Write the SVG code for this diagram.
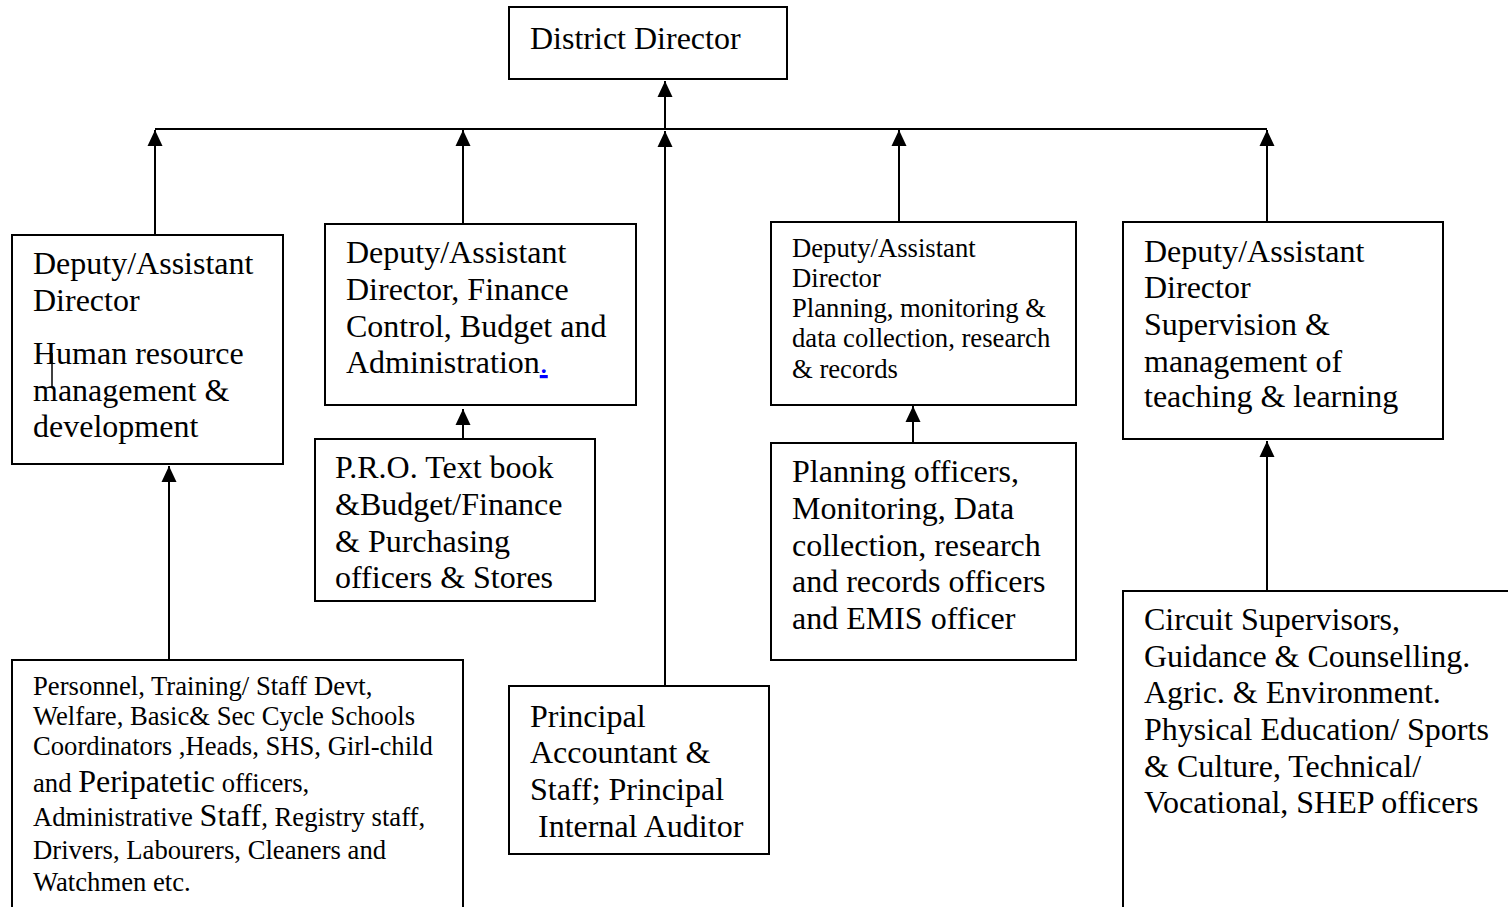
<svg xmlns="http://www.w3.org/2000/svg" width="1508" height="907" viewBox="0 0 1508 907">
<style>
.box{fill:#fff;stroke:#000;stroke-width:2}
.ln{fill:none;stroke:#000;stroke-width:2}
.t{font-family:"Liberation Serif","Times New Roman",serif;font-size:32px;fill:#000}
.s{font-family:"Liberation Serif","Times New Roman",serif;font-size:26.67px;fill:#000}
</style>
<defs>
<marker id="ah" viewBox="0 0 16 16" refX="16" refY="8" markerWidth="16" markerHeight="16" markerUnits="userSpaceOnUse" orient="auto">
<path d="M0,0.5 L16,8 L0,15.5 z" fill="#000"/>
</marker>
</defs>
<rect width="1508" height="907" fill="#fff"/>
<g id="connectors">
<line class="ln" x1="155" y1="129" x2="1267" y2="129"/>
<line class="ln" x1="665" y1="129" x2="665" y2="81" marker-end="url(#ah)"/>
<line class="ln" x1="155" y1="235" x2="155" y2="130" marker-end="url(#ah)"/>
<line class="ln" x1="463" y1="224" x2="463" y2="130" marker-end="url(#ah)"/>
<line class="ln" x1="665" y1="686" x2="665" y2="131" marker-end="url(#ah)"/>
<line class="ln" x1="899" y1="222" x2="899" y2="130" marker-end="url(#ah)"/>
<line class="ln" x1="1267" y1="222" x2="1267" y2="130" marker-end="url(#ah)"/>
<line class="ln" x1="169" y1="660" x2="169" y2="466" marker-end="url(#ah)"/>
<line class="ln" x1="463" y1="439" x2="463" y2="409" marker-end="url(#ah)"/>
<line class="ln" x1="913" y1="443" x2="913" y2="406" marker-end="url(#ah)"/>
<line class="ln" x1="1267" y1="591" x2="1267" y2="441" marker-end="url(#ah)"/>
</g>
<g id="district-director">
<rect class="box" x="509" y="7" width="278" height="72"/>
<text class="t" x="530" y="49">District Director</text>
</g>
<g id="dad-hr">
<rect class="box" x="12" y="235" width="271" height="229"/>
<text class="t"><tspan x="33" y="274">Deputy/Assistant</tspan><tspan x="33" y="311">Director</tspan><tspan x="33" y="364">Human resource</tspan><tspan x="33" y="401">management &amp;</tspan><tspan x="33" y="437">development</tspan></text>
<line x1="52" y1="353" x2="52" y2="387" stroke="#000" stroke-width="1.5"/>
</g>
<g id="dad-finance">
<rect class="box" x="325" y="224" width="311" height="181"/>
<text class="t"><tspan x="346" y="263">Deputy/Assistant</tspan><tspan x="346" y="300">Director, Finance</tspan><tspan x="346" y="337">Control, Budget and</tspan><tspan x="346" y="373">Administration<tspan fill="#0000ff" text-decoration="underline">.</tspan></tspan></text>
</g>
<g id="pro">
<rect class="box" x="315" y="439" width="280" height="162"/>
<text class="t"><tspan x="335" y="478">P.R.O. Text book</tspan><tspan x="335" y="515">&amp;Budget/Finance</tspan><tspan x="335" y="552">&amp; Purchasing</tspan><tspan x="335" y="588">officers &amp; Stores</tspan></text>
</g>
<g id="dad-planning">
<rect class="box" x="771" y="222" width="305" height="183"/>
<text class="s"><tspan x="792" y="257">Deputy/Assistant</tspan><tspan x="792" y="287">Director</tspan><tspan x="792" y="317">Planning, monitoring &amp;</tspan><tspan x="792" y="347">data collection, research</tspan><tspan x="792" y="378">&amp; records</tspan></text>
</g>
<g id="planning-officers">
<rect class="box" x="771" y="443" width="305" height="217"/>
<text class="t"><tspan x="792" y="482">Planning officers,</tspan><tspan x="792" y="519">Monitoring, Data</tspan><tspan x="792" y="556">collection, research</tspan><tspan x="792" y="592">and records officers</tspan><tspan x="792" y="629">and EMIS officer</tspan></text>
</g>
<g id="dad-supervision">
<rect class="box" x="1123" y="222" width="320" height="217"/>
<text class="t"><tspan x="1144" y="262">Deputy/Assistant</tspan><tspan x="1144" y="298">Director</tspan><tspan x="1144" y="335">Supervision &amp;</tspan><tspan x="1144" y="372">management of</tspan><tspan x="1144" y="407">teaching &amp; learning</tspan></text>
</g>
<g id="circuit">
<rect class="box" x="1123" y="591" width="420" height="360"/>
<text class="t"><tspan x="1144" y="630">Circuit Supervisors,</tspan><tspan x="1144" y="667">Guidance &amp; Counselling.</tspan><tspan x="1144" y="703">Agric. &amp; Environment.</tspan><tspan x="1144" y="740">Physical Education/ Sports</tspan><tspan x="1144" y="777">&amp; Culture, Technical/</tspan><tspan x="1144" y="813">Vocational, SHEP officers</tspan></text>
</g>
<g id="personnel">
<rect class="box" x="12" y="660" width="451" height="300"/>
<text class="s"><tspan x="33" y="695">Personnel, Training/ Staff Devt,</tspan><tspan x="33" y="725">Welfare, Basic&amp; Sec Cycle Schools</tspan><tspan x="33" y="755">Coordinators ,Heads, SHS, Girl-child</tspan><tspan x="33" y="792">and <tspan font-size="32">Peripatetic</tspan> officers,</tspan><tspan x="33" y="826">Administrative <tspan font-size="32">Staff</tspan>, Registry staff,</tspan><tspan x="33" y="859">Drivers, Labourers, Cleaners and</tspan><tspan x="33" y="891">Watchmen etc.</tspan></text>
</g>
<g id="principal">
<rect class="box" x="509" y="686" width="260" height="168"/>
<text class="t"><tspan x="530" y="727">Principal</tspan><tspan x="530" y="763">Accountant &amp;</tspan><tspan x="530" y="800">Staff; Principal</tspan><tspan x="530" y="837" xml:space="preserve"> Internal Auditor</tspan></text>
</g>
</svg>
